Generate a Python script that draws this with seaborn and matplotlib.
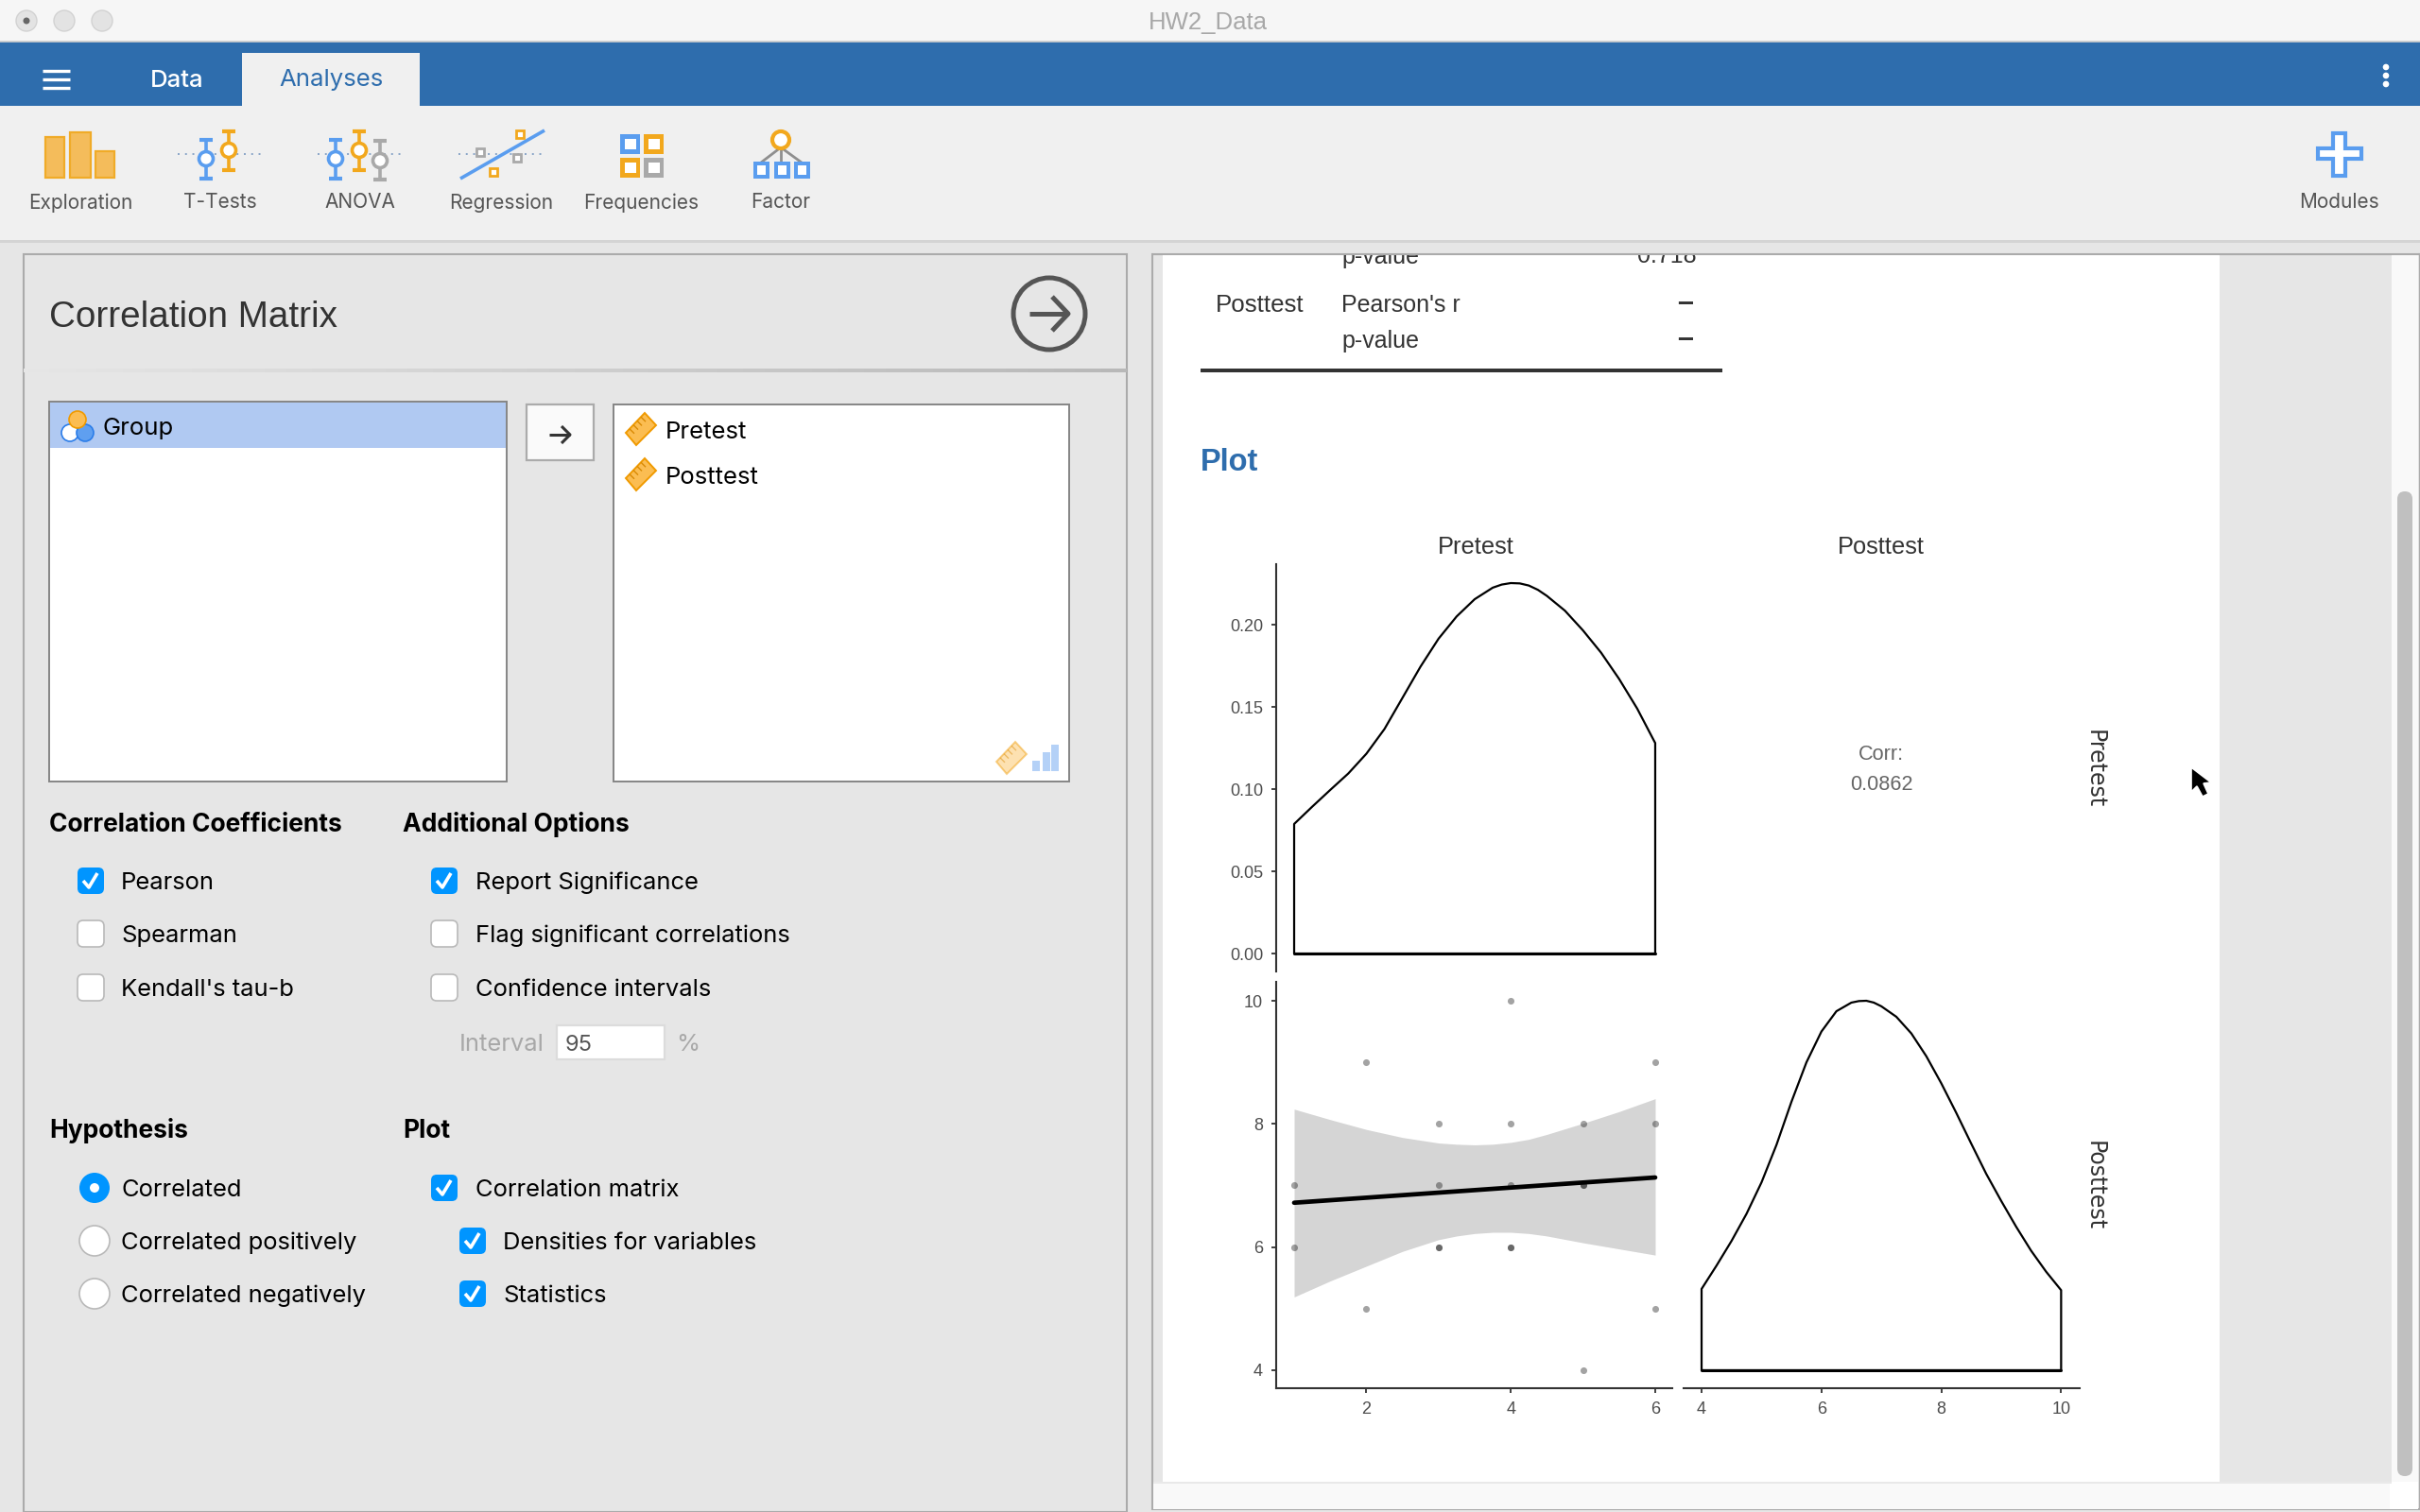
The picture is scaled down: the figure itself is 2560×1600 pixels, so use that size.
import matplotlib
matplotlib.use("Agg")
import matplotlib.pyplot as plt
from matplotlib.patches import Rectangle, Circle, Polygon, FancyBboxPatch
import numpy as np
import pandas as pd
import seaborn as sns

W, H = 2560, 1600

# values
pretest = [1, 1, 2, 2, 3, 3, 3, 3, 4, 4, 4, 4, 4, 5, 5, 5, 5, 6, 6, 6]
posttest = [7, 6, 9, 5, 8, 7, 6, 6, 10, 8, 7, 6, 6, 8, 7, 7, 4, 9, 8, 5]

fit_x = [1, 6]
fit_y = [6.72, 7.13]

band_x = [1, 1.5, 2, 2.5, 3, 3.25, 3.5, 3.75, 4, 4.25, 4.5, 5, 5.5, 6]
band_upper = [8.24, 8.07, 7.91, 7.78, 7.69, 7.67, 7.66, 7.67, 7.70, 7.75, 7.83, 8.01, 8.20, 8.41]
band_lower = [5.19, 5.45, 5.69, 5.93, 6.12, 6.18, 6.22, 6.24, 6.24, 6.22, 6.18, 6.07, 5.97, 5.87]

pre_dens_x = [1, 1.25, 1.5, 1.75, 2, 2.25, 2.5, 2.75, 3, 3.25, 3.5, 3.75, 3.875, 4, 4.125, 4.25, 4.375, 4.5,
              4.75, 5, 5.25, 5.5, 5.75, 6]
pre_dens_y = [0.0788, 0.0893, 0.0995, 0.1095, 0.1215, 0.1365, 0.1555, 0.1745, 0.1915, 0.205, 0.2155, 0.2225,
              0.2244, 0.2253, 0.2251, 0.2238, 0.2212, 0.2175, 0.2085, 0.1965, 0.183, 0.167, 0.149, 0.128]
post_dens_x = [4, 4.25, 4.5, 4.75, 5, 5.25, 5.5, 5.75, 6, 6.25, 6.5, 6.625, 6.75, 6.875, 7, 7.25, 7.5, 7.75, 8,
               8.25, 8.5, 8.75, 9, 9.25, 9.5, 9.75, 10]
post_dens_y = [5.32, 5.70, 6.10, 6.54, 7.05, 7.66, 8.36, 9.0, 9.50, 9.83, 9.97, 9.995, 10.0, 9.97, 9.91, 9.74,
               9.47, 9.10, 8.66, 8.18, 7.68, 7.19, 6.75, 6.33, 5.94, 5.60, 5.30]

pre_y_ticks = [0.00, 0.05, 0.10, 0.15, 0.20]
post_y_ticks = [4, 6, 8, 10]
pre_x_ticks = [2, 4, 6]
post_x_ticks = [4, 6, 8, 10]

tool_names = ["Exploration", "T-Tests", "ANOVA", "Regression", "Frequencies", "Factor"]
tool_centers = [85, 233, 381, 530, 678, 826]

BLUE = "#2e6dad"
ORANGE = "#f2a81d"
LBLUE = "#5a9def"
GREY = "#a9a9a9"
CHECK = "#0095ff"
SANS = ["Liberation Sans", "DejaVu Sans"]
UI = ["Inter", "DejaVu Sans"]

sns.set_theme(style="white")
plt.rcParams["font.family"] = SANS

fig = plt.figure(figsize=(W / 100, H / 100), dpi=100, facecolor="#e6e6e6")
ui = fig.add_axes([0, 0, 1, 1], zorder=0)
ui.axis("off")


def rect(x0, y0, x1, y1, fc, ec="none", lw=0, z=1):
    ui.add_patch(Rectangle((x0, y0), x1 - x0, y1 - y0, fc=fc, ec=ec, lw=lw, zorder=z))


def line(xs, ys, color, lw=1.5, z=3, **kw):
    ui.plot(xs, ys, color=color, lw=lw, zorder=z, solid_capstyle="butt", **kw)


def label(x, y, s, size=18.4, color="#000000", family=UI, ha="left", weight="normal", rotation=0, z=5):
    ui.text(x, y + 2.5, s, fontsize=size, color=color, family=family, ha=ha, va="center", weight=weight,
            rotation=rotation, zorder=z)


def check_box(cx, cy, on):
    if on:
        ui.add_patch(FancyBboxPatch((cx - 12, cy - 12), 24, 24, boxstyle="round,pad=2,rounding_size=6",
                                    fc=CHECK, ec="none", zorder=3))
        line([cx - 8, cx - 2, cx + 7], [cy, cy + 7, cy - 8], "white", lw=2.6, z=4)
    else:
        ui.add_patch(FancyBboxPatch((cx - 12, cy - 12), 24, 24, boxstyle="round,pad=2,rounding_size=6",
                                    fc="white", ec="#b9b9b9", lw=1.2, zorder=3))


def radio(cx, cy, on):
    if on:
        ui.add_patch(Circle((cx, cy), 16, fc=CHECK, ec="none", zorder=3))
        ui.add_patch(Circle((cx, cy), 5, fc="white", ec="none", zorder=4))
    else:
        ui.add_patch(Circle((cx, cy), 16, fc="white", ec="#b9b9b9", lw=1.2, zorder=3))


def ruler(cx, cy, alpha=1.0):
    pts = [(cx + 4, cy - 17), (cx + 16, cy - 4), (cx - 5, cy + 17), (cx - 16, cy + 4)]
    ui.add_patch(Polygon(pts, closed=True, fc="#fbbd52", ec="#f09a00", lw=1.4, alpha=alpha, zorder=4))
    for t in (0.2, 0.4, 0.6, 0.8):
        bx = cx + 4 + t * (-20)
        by = cy - 17 + t * 21
        line([bx, bx + 5], [by, by + 5], "#d98a05", lw=1, z=5, alpha=alpha)


def stem(x, y0, y1, cy, color):
    line([x, x], [y0, y1], color, lw=2.6)
    line([x - 7, x + 7], [y0 + 1, y0 + 1], color, lw=3)
    line([x - 7, x + 7], [y1 - 1, y1 - 1], color, lw=3)
    ui.add_patch(Circle((x, cy), 7.5, fc="white", ec=color, lw=2.6, zorder=4))


def small_square(cx, cy, color, size=8):
    ui.add_patch(Rectangle((cx - size / 2, cy - size / 2), size, size, fc="white", ec=color, lw=2, zorder=4))


# window chrome
rect(0, 0, W, 43, "#f6f6f6")
line([0, W], [43.5, 43.5], "#d0d0d0", lw=1.2)
for bx in (28, 68, 108):
    ui.add_patch(Circle((bx, 22), 11, fc="#e3e3e3", ec="#d2d2d2", lw=1, zorder=3))
ui.add_patch(Circle((28, 22), 3.5, fc="#666666", ec="none", zorder=4))
label(1278, 22, "HW2_Data", size=18.5, color="#a8a8a8", family=SANS, ha="center")

rect(0, 44, W, 112, BLUE)
rect(256, 56, 444, 112, "#f0f0f0", z=2)
for hy in (75, 84, 93):
    line([45, 74], [hy, hy], "white", lw=2.4)
label(187, 82.5, "Data", size=18.5, color="white", ha="center", weight="medium")
label(350, 82.5, "Analyses", size=18.5, color=BLUE, ha="center")
ui.add_patch(Circle((2524, 71), 2.6, fc="white", zorder=3))
ui.add_patch(Circle((2524, 80), 2.6, fc="white", zorder=3))
ui.add_patch(Circle((2524, 89), 2.6, fc="white", zorder=3))

rect(0, 112, W, 254, "#f0f0f0")
rect(0, 254, W, 257, "#d4d4d4")
for name, cx in zip(tool_names, tool_centers):
    label(cx, 212, name, size=15, color="#555555", ha="center")
label(2474, 212, "Modules", size=15, color="#555555", ha="center")

# toolbar icons
for x0, y0, x1 in ((48, 145, 68), (74, 140, 96), (101, 160, 121)):
    rect(x0, y0, x1, 188, "#f4bc5b", ec="#f0ab28", lw=1.6, z=3)
line([188, 278], [163, 163], "#8aa5c7", lw=1.4, ls=(0, (1, 3)))
stem(218, 147, 190, 168, LBLUE)
stem(242, 138, 181, 159, ORANGE)
line([336, 426], [163, 163], "#8aa5c7", lw=1.4, ls=(0, (1, 3)))
stem(355, 147, 190, 168, LBLUE)
stem(380, 138, 181, 159, ORANGE)
stem(402, 148, 191, 170, GREY)
line([485, 578], [163, 163], "#8aa5c7", lw=1.4, ls=(0, (1, 3)))
line([487, 576], [189, 138], LBLUE, lw=2.6)
small_square(550, 142, ORANGE)
small_square(508, 161, GREY)
small_square(547, 167, GREY)
small_square(522, 182, ORANGE)
for x0, y0, c in ((656, 142, LBLUE), (681, 142, ORANGE), (656, 167, ORANGE), (681, 167, GREY)):
    rect(x0, y0, x0 + 21, y0 + 21, c, z=3)
    rect(x0 + 4.5, y0 + 5, x0 + 16.5, y0 + 16, "white", z=4)
for fx, sx in ((805, 805.5), (826, 827), (848, 848)):
    line([826, fx], [156, 172], "#8f8f8f", lw=2)
    rect(sx - 8.5, 171, sx + 8.5, 189, LBLUE, z=3)
    rect(sx - 4.5, 175, sx + 4.5, 185, "white", z=4)
ui.add_patch(Circle((826, 148), 9, fc="white", ec=ORANGE, lw=3, zorder=4))
plus = [(2468, 141), (2481, 141), (2481, 157), (2498, 157), (2498, 168), (2481, 168), (2481, 186),
        (2468, 186), (2468, 168), (2452, 168), (2452, 157), (2468, 157)]
ui.add_patch(Polygon(plus, closed=True, fc="white", ec=LBLUE, lw=3, zorder=4))

# left panel
rect(25, 269, 1192, 1600, "#e6e6e6", ec="#ababab", lw=1.5)
label(52, 333, "Correlation Matrix", size=27.8, color="#333333", family=SANS)
ui.add_patch(Circle((1110, 332), 38, fc="none", ec="#555555", lw=3.6, zorder=3))
line([1089, 1130], [332, 332], "#555555", lw=3.6)
line([1113, 1130, 1113], [314, 332, 350], "#555555", lw=3.6)
divider = sns.blend_palette(["#e6e6e6", "#b8b8b8"], as_cmap=True)
ui.imshow(np.linspace(0, 1, 256).reshape(1, -1), extent=(25, 1192, 394, 390), cmap=divider, aspect="auto", zorder=2)

rect(52, 425, 536, 827, "white", ec="#858585", lw=1.4)
rect(53, 426, 535, 474, "#b0c9f2", z=2)
ui.add_patch(Circle((74, 458), 9, fc="white", ec="#2b7de9", lw=1.2, zorder=3))
ui.add_patch(Circle((90, 458), 9, fc="#5f9ff0", ec="#2b7de9", lw=1.2, zorder=3))
ui.add_patch(Circle((82, 444), 9, fc="#fbbd52", ec="#f09a00", lw=1.2, zorder=4))
label(108, 451, "Group", size=18.5)

rect(557, 428, 628, 487, "#fafafa", ec="#ababab", lw=1.6)
line([581, 603], [460, 460], "#333333", lw=2.2)
line([594, 603, 594], [451, 460, 469], "#333333", lw=2.2)

rect(649, 428, 1131, 827, "white", ec="#858585", lw=1.4)
ruler(678, 454)
ruler(678, 502)
label(704, 455, "Pretest", size=18.5)
label(704, 503, "Posttest", size=18.5)
ruler(1070, 802, alpha=0.45)
rect(1092, 805, 1100, 816, "#b4d1f7", z=3)
rect(1103, 796, 1111, 816, "#b4d1f7", z=3)
rect(1112, 788, 1120, 816, "#b4d1f7", z=3)

label(52, 870, "Correlation Coefficients", size=19, weight="bold")
label(426, 870, "Additional Options", size=19, weight="bold")
for cy, txt, on in ((932, "Pearson", True), (988, "Spearman", False), (1045, "Kendall's tau-b", False)):
    check_box(96, cy, on)
    label(128, cy, txt)
for cy, txt, on in ((932, "Report Significance", True), (988, "Flag significant correlations", False),
                    (1045, "Confidence intervals", False)):
    check_box(470, cy, on)
    label(503, cy, txt)
label(486, 1103, "Interval", color="#a8a8a8")
rect(589, 1085, 703, 1121, "white", ec="#dcdcdc", lw=1.6)
label(598, 1103, "95", size=17, color="#555555")
label(715, 1103, "%", color="#a8a8a8")

label(52, 1194, "Hypothesis", size=19, weight="bold")
label(426, 1194, "Plot", size=19, weight="bold")
for cy, txt, on in ((1257, "Correlated", True), (1313, "Correlated positively", False),
                    (1369, "Correlated negatively", False)):
    radio(100, cy, on)
    label(128, cy, txt)
check_box(470, 1257, True)
label(503, 1257, "Correlation matrix")
check_box(500, 1313, True)
label(532, 1313, "Densities for variables")
check_box(500, 1369, True)
label(532, 1369, "Statistics")

# right panel
rect(1219, 269, W, 1597, "#e6e6e6", ec="#ababab", lw=1.5)
rect(1230, 270, 2348, 1568, "white", z=1.5)
rect(1220, 1568, 2530, 1597, "#f9f9f9", z=1.5)
line([1220, 2530], [1568.5, 1568.5], "#e6e6e6", lw=1.2)
rect(2530, 270, 2558, 1568, "#f9f9f9", z=1.5)
rect(2528, 1568, 2558, 1597, "white", z=1.6)
ui.add_patch(FancyBboxPatch((2539, 523), 10, 1036, boxstyle="round,pad=3,rounding_size=8", fc="#c0c0c0",
                            ec="none", zorder=2))
label(1419, 270, "p-value", size=18, color="#333333", family=SANS, z=2)
label(1638, 267, "–", size=22, color="#333333", family=SANS, ha="center", weight="bold", z=2)
label(1795, 268, "0.718", size=18, color="#333333", family=SANS, ha="right", z=2)
rect(1220, 258, 2558, 269, "#e6e6e6", z=3)
line([1219, W], [269, 269], "#ababab", lw=1.5, z=4)
label(1286, 320, "Posttest", size=18.6, color="#333333", family=SANS)
label(1419, 320, "Pearson's r", size=18, color="#333333", family=SANS)
label(1791, 319, "–", size=22, color="#333333", family=SANS, ha="right", weight="bold")
label(1419, 358.5, "p-value", size=18, color="#333333", family=SANS)
label(1791, 357, "–", size=22, color="#333333", family=SANS, ha="right", weight="bold")
rect(1270, 390, 1822, 394, "#333333", z=3)
label(1270, 486.5, "Plot", size=23.5, color=BLUE, weight="bold", family=SANS)

label(1561, 576.5, "Pretest", size=18.3, color="#333333", family=SANS, ha="center")
label(1990, 576.5, "Posttest", size=18.3, color="#333333", family=SANS, ha="center")
label(2216, 811, "Pretest", size=17, color="#333333", family=["DejaVu Sans"], ha="center", rotation=-90)
label(2216, 1252, "Posttest", size=17, color="#333333", family=["DejaVu Sans"], ha="center", rotation=-90)
label(1990, 796, "Corr:", size=15.6, color="#666666", family=SANS, ha="center")
label(1990, 828, "0.0862", size=15.6, color="#666666", family=SANS, ha="center")

cursor = [(2318, 812), (2318, 838), (2324, 832), (2330, 843), (2336, 840), (2331, 829), (2339, 828)]
ui.add_patch(Polygon(cursor, closed=True, fc="black", ec="white", lw=1.2, zorder=6))

ui.set_xlim(0, W)
ui.set_ylim(H, 0)


def panel(x0, y0, x1, y1, xlim, ylim):
    ax = fig.add_axes([x0 / W, 1 - y1 / H, (x1 - x0) / W, (y1 - y0) / H], zorder=2)
    ax.patch.set_alpha(0)
    ax.set_xlim(*xlim)
    ax.set_ylim(*ylim)
    ax.tick_params(length=3.5, width=1.3, color="#333333", labelcolor="#4d4d4d", labelsize=13, pad=6.5,
                   left=True, bottom=True)
    for sp in ax.spines.values():
        sp.set_color("#333333")
        sp.set_linewidth(1.5)
    return ax


def closed_density(ax, xs, ys, base):
    frame = pd.DataFrame({"x": [xs[0]] + xs + [xs[-1], xs[0]], "y": [base] + ys + [base, base]})
    sns.lineplot(data=frame, x="x", y="y", sort=False, estimator=None, color="black", lw=1.6, ax=ax)
    ax.plot([xs[0], xs[-1]], [base, base], color="black", lw=2.2)
    ax.set_xlabel("")
    ax.set_ylabel("")


ax_pre = panel(1350, 597, 1769, 1028, (0.751, 6.236), (-0.0109, 0.2368))
closed_density(ax_pre, pre_dens_x, pre_dens_y, 0)
ax_pre.set_yticks(pre_y_ticks)
ax_pre.set_yticklabels([f"{v:.2f}" for v in pre_y_ticks])
ax_pre.set_xticks([])
sns.despine(ax=ax_pre, bottom=True)

ax_scatter = panel(1350, 1039, 1769, 1469, (0.751, 6.236), (3.708, 10.307))
ax_scatter.fill_between(band_x, band_lower, band_upper, color="#d5d5d5", lw=0, zorder=1)
sns.scatterplot(x=pretest, y=posttest, color="black", alpha=0.36, s=26, linewidth=0, ax=ax_scatter, zorder=2)
sns.lineplot(x=fit_x, y=fit_y, color="black", lw=3.4, ax=ax_scatter, zorder=3)
ax_scatter.set_xticks(pre_x_ticks)
ax_scatter.set_yticks(post_y_ticks)
sns.despine(ax=ax_scatter)

ax_post = panel(1781, 1039, 2200, 1469, (3.70, 10.31), (3.708, 10.307))
closed_density(ax_post, post_dens_x, post_dens_y, 4)
ax_post.set_xticks(post_x_ticks)
ax_post.set_yticks([])
sns.despine(ax=ax_post, left=True)

fig.savefig("out.png", dpi=100, facecolor=fig.get_facecolor())
